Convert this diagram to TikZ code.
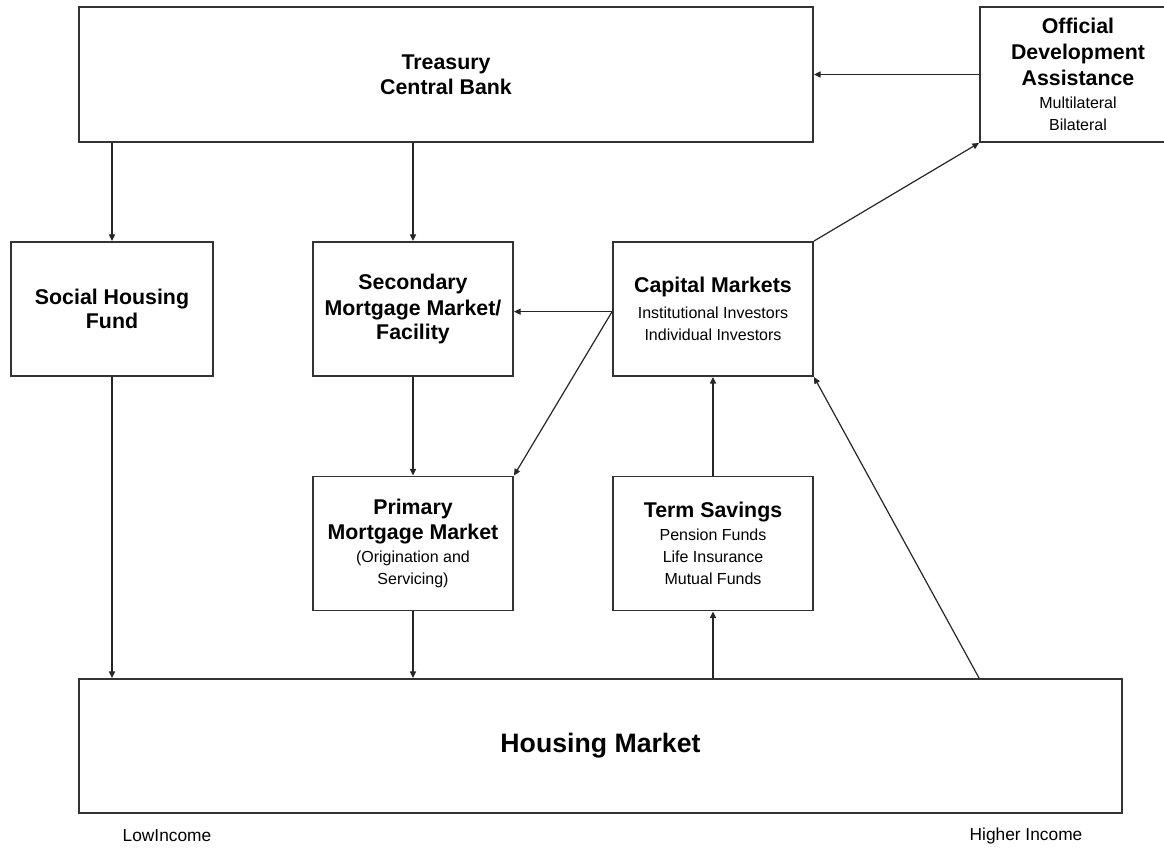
\documentclass[tikz,border=0pt]{standalone}
\usepackage{fontspec}
\setmainfont{Liberation Sans}
\usetikzlibrary{arrows.meta}
\newcommand{\ttl}{\fontsize{16}{16.5}\selectfont\bfseries}
\newcommand{\sbt}{\fontsize{12}{16.5}\selectfont}
\begin{document}
\begin{tikzpicture}[x=0.75pt, y=-0.75pt,
    block/.style={draw=black!80, line width=1.4pt, align=center, inner sep=2pt,
        font=\fontsize{12}{16.5}\selectfont},
    col/.style={block, minimum width=150pt, minimum height=100.5pt},
    arr/.style={-{Triangle[length=5pt,width=4.5pt]}, line width=0.9pt, draw=black!85},
    note/.style={font=\fontsize{13}{15}\selectfont}
]
\useasboundingbox (0,0) rectangle (1164,855);
\node[block, minimum width=550.5pt, minimum height=101.25pt] (treasury) at (446,74.5)
    {{\ttl Treasury}\\[2pt]{\ttl Central Bank}};
\node[block, minimum width=147pt, minimum height=101.25pt] (oda) at (1078,74.5)
    {{\ttl Official}\\[3pt]{\ttl Development}\\[3pt]{\ttl Assistance}\\[1pt]{\sbt Multilateral}\\{\sbt Bilateral}};
\node[col, minimum width=151.5pt] (social) at (112,309)
    {{\ttl Social Housing}\\[2pt]{\ttl Fund}};
\node[col] (secondary) at (413,309)
    {{\ttl Secondary}\\[3pt]{\ttl Mortgage Market/}\\[2pt]{\ttl Facility}};
\node[col] (capital) at (713,309)
    {{\ttl Capital Markets}\\[3pt]{\sbt Institutional Investors}\\{\sbt Individual Investors}};
\node[col] (primary) at (413,543.5)
    {{\ttl Primary}\\[2pt]{\ttl Mortgage Market}\\[1pt]{\sbt (Origination and}\\{\sbt Servicing)}};
\node[col] (savings) at (713,543.5)
    {{\ttl Term Savings}\\[1pt]{\sbt Pension Funds}\\{\sbt Life Insurance}\\{\sbt Mutual Funds}};
\node[block, minimum width=782.25pt, minimum height=100.5pt,
    font=\fontsize{20}{24}\selectfont\bfseries] (housing) at (600.5,746) {Housing Market};
\node[note] (low) at (167,836) {LowIncome};
\node[note] (high) at (1026,836) {Higher Income};
\draw[arr] (oda.west) -- (treasury.east);
\draw[arr] (social.north |- treasury.south) -- (social.north);
\draw[arr] (secondary.north |- treasury.south) -- (secondary.north);
\draw[arr] (capital.north east) -- (oda.south west);
\draw[arr] ([yshift=-2pt]capital.west) -- ([yshift=-2pt]secondary.east);
\draw[arr] ([yshift=-2pt]capital.west) -- (primary.north east);
\draw[arr] (secondary.south) -- (primary.north);
\draw[arr] (social.south) -- (social.south |- housing.north);
\draw[arr] (primary.south) -- (primary.south |- housing.north);
\draw[arr] (savings.south |- housing.north) -- (savings.south);
\draw[arr] (savings.north) -- (capital.south);
\draw[arr] (oda.west |- housing.north) -- (capital.south east);
\end{tikzpicture}
\end{document}
